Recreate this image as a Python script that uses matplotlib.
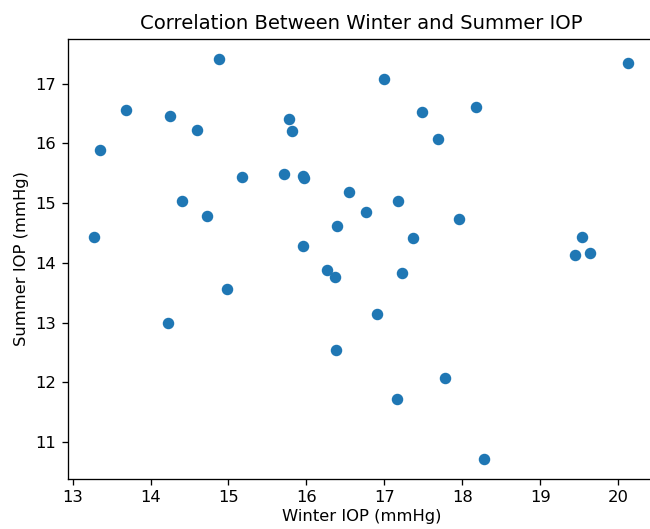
import matplotlib
matplotlib.use('Agg')
import matplotlib.pyplot as plt

# Winter vs summer intraocular pressure readings (mmHg)
winter_iop = [14.88, 13.69, 13.35, 14.25, 14.60, 15.78, 15.82, 15.17, 15.71, 15.95,
              15.97, 14.40, 14.72, 13.28, 15.95, 16.26, 20.13, 16.99, 17.48, 18.17,
              17.69, 16.55, 17.17, 16.77, 16.39, 17.96, 17.37, 19.54, 19.44, 19.64,
              16.37, 17.23, 14.98, 14.23, 16.91, 16.38, 17.78, 17.16, 18.28]
summer_iop = [17.41, 16.55, 15.88, 16.46, 16.22, 16.40, 16.20, 15.44, 15.48, 15.46,
              15.42, 15.04, 14.79, 14.43, 14.29, 13.88, 17.35, 17.07, 16.52, 16.60,
              16.08, 15.18, 15.04, 14.85, 14.61, 14.73, 14.41, 14.43, 14.13, 14.17,
              13.77, 13.83, 13.57, 12.99, 13.14, 12.54, 12.08, 11.72, 10.72]

dpi = 118
fig = plt.figure(figsize=(650/dpi, 529/dpi), dpi=dpi)
ax = fig.add_axes([67.7/650, 50/529, (655-67.7)/650, (479-39)/529])
ax.scatter(winter_iop, summer_iop)
ax.set_title('Correlation Between Winter and Summer IOP')
ax.set_xlabel('Winter IOP (mmHg)', labelpad=2)
ax.set_ylabel('Summer IOP (mmHg)')
plt.savefig('out.png', dpi=dpi)
